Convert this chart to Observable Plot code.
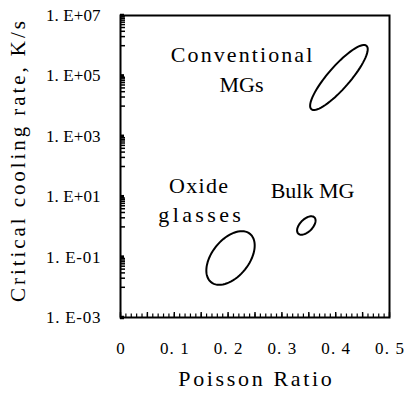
<!DOCTYPE html>
<html>
<head>
<meta charset="utf-8">
<script src="https://cdn.jsdelivr.net/npm/d3@7"></script>
<script src="https://cdn.jsdelivr.net/npm/@observablehq/plot@0.6"></script>
<style>
  html, body { margin: 0; padding: 0; background: #fff; }
  svg text { font-family: "Liberation Serif", "DejaVu Serif", serif !important; }
</style>
</head>
<body>
<div id="chart"></div>
<script>
// ---- data ----
const xTicks = [0, 0.1, 0.2, 0.3, 0.4, 0.5];
const xTickLabels = ["0", "0. 1", "0. 2", "0. 3", "0. 4", "0. 5"];
const yTicks = [1e-3, 1e-1, 1e1, 1e3, 1e5, 1e7];
const yTickLabels = ["1. E-03", "1. E-01", "1. E+01", "1. E+03", "1. E+05", "1. E+07"];

// ellipse regions: centre (Poisson ratio, log10 cooling rate) and two half-axis vectors
const regions = ["Conventional MGs", "Oxide glasses", "Bulk MG"];
const centerRatio = [0.406, 0.2045, 0.3454];
const centerLogRate = [4.947, -1.030, 0.046];
const halfAxisA = [[0.0513, 1.050], [0.0361, 0.801], [0.01506, 0.268]];
const halfAxisB = [[0.0154, -0.238], [0.0268, -0.384], [0.00827, -0.147]];

// annotation labels
const labelText = ["Conventional", "MGs", "Oxide", "glasses", "Bulk MG"];
const labelRatio = [0.225, 0.225, 0.145, 0.147, 0.357];
const labelRate = [5.1e5, 5.2e4, 23.5, 2.58, 16.0];

const xTitle = "Poisson Ratio";
const yTitle = "Critical cooling rate, K/s";

// ---- derived ----
const outline = [];
regions.forEach((r, i) => {
  for (let k = 0; k <= 72; k++) {
    const t = (k / 72) * 2 * Math.PI;
    const xr = centerRatio[i] + halfAxisA[i][0] * Math.cos(t) + halfAxisB[i][0] * Math.sin(t);
    const lr = centerLogRate[i] + halfAxisA[i][1] * Math.cos(t) + halfAxisB[i][1] * Math.sin(t);
    outline.push({region: r, ratio: xr, rate: Math.pow(10, lr)});
  }
});
const labels = labelText.map((t, i) => ({text: t, ratio: labelRatio[i], rate: labelRate[i]}));

// axis minor ticks (structure, not data)
const yMinor = [];
[-2, 0, 2, 4, 6].forEach(e => { for (let k = 1; k <= 9; k++) yMinor.push(k * Math.pow(10, e)); });
const xMinor = d3.range(0, 51).map(i => i / 100);
const xMid = d3.range(0, 11).map(i => i / 20);

const W = 406, H = 393;
const mL = 120, mR = 17, mT = 15, mB = 76;
const pw = W - mL - mR, ph = H - mT - mB;
const FONT = "Liberation Serif, DejaVu Serif, serif";

const chart = Plot.plot({
  width: W,
  height: H,
  marginLeft: mL,
  marginRight: mR,
  marginTop: mT,
  marginBottom: mB,
  style: {fontFamily: FONT, background: "#fff", color: "#000"},
  x: {domain: [0, 0.5], axis: null},
  y: {type: "log", domain: [1e-3, 1e7], axis: null},
  marks: [
    // bottom ticks (inward)
    Plot.ruleX(xMinor, {x: d => d, insetTop: ph - 3.5, stroke: "#000", strokeWidth: 1.2}),
    Plot.ruleX(xMid, {x: d => d, insetTop: ph - 5, stroke: "#000", strokeWidth: 1.4}),
    // left ticks (inward)
    Plot.ruleY(yMinor, {y: d => d, insetRight: pw - 5, stroke: "#000", strokeWidth: 1.5}),
    Plot.ruleY(yTicks, {y: d => d, insetRight: pw - 4, stroke: "#000", strokeWidth: 3.5}),
    Plot.frame({stroke: "#000", strokeWidth: 2}),
    // tick labels
    Plot.text(xTicks, {x: d => d, frameAnchor: "bottom", dy: 31, text: (d, i) => xTickLabels[i],
      fontSize: 17, textAnchor: "middle", lineAnchor: "middle", fill: "#000"}),
    Plot.text(yTicks, {y: d => d, frameAnchor: "left", dx: -20, text: (d, i) => yTickLabels[i],
      fontSize: 17, textAnchor: "end", lineAnchor: "middle", fill: "#000"}),
    // axis titles
    Plot.text([xTitle], {frameAnchor: "bottom", dy: 61, text: d => d, fontSize: 22,
      textAnchor: "middle", lineAnchor: "middle", fill: "#000"}),
    Plot.text([yTitle], {frameAnchor: "left", dx: -102, dy: -5, rotate: -90, text: d => d, fontSize: 21,
      textAnchor: "middle", lineAnchor: "middle", fill: "#000"}),
    // ellipses
    Plot.line(outline, {x: "ratio", y: "rate", z: "region", curve: "linear-closed",
      stroke: "#000", strokeWidth: 2}),
    // annotations
    Plot.text(labels, {x: "ratio", y: "rate", text: "text", fontSize: 22,
      textAnchor: "middle", lineAnchor: "middle", fill: "#000"})
  ]
});
document.getElementById("chart").appendChild(chart);

// emulate the half-width monospaced look of the original typeface (only widen, never squeeze)
const advance = new Map();
[...labelText, xTitle].forEach(s => advance.set(s, 11.8));
advance.set(yTitle, 10.8);
yTickLabels.forEach(s => advance.set(s, 7.8));
xTickLabels.forEach(s => advance.set(s, 7.2));
chart.querySelectorAll("text").forEach(t => {
  const s = t.textContent;
  if (advance.has(s) && s.length > 1) {
    const target = s.length * advance.get(s);
    if (t.getComputedTextLength() < target) {
      t.setAttribute("textLength", target.toFixed(1));
      t.setAttribute("lengthAdjust", "spacing");
    }
  }
});
</script>
</body>
</html>
